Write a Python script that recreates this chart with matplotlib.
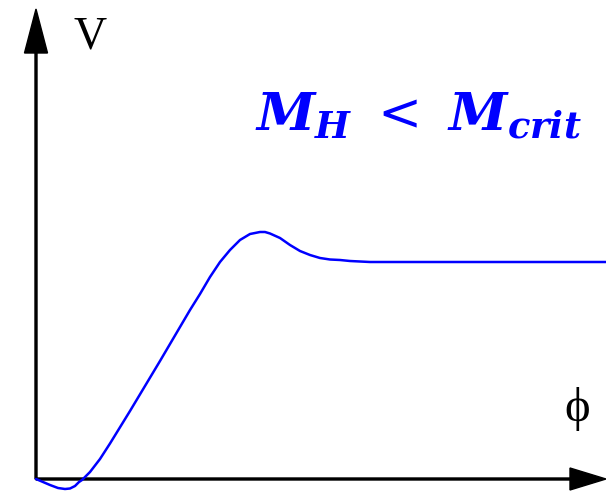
# 画势能曲线 V(phi)

import matplotlib.pyplot as plt

# 曲线上的点 (phi, V)
phi = [0, 7, 14, 22, 29, 34, 39, 43, 46, 54, 64, 74, 94, 124, 154, 164,
       174, 184, 194, 204, 214, 224, 229, 234, 244, 254, 264, 274, 284,
       294, 304, 314, 334, 570]
V = [0, -3, -6, -9, -10, -9.5, -7, -3, -1, 7, 20, 35.5, 68, 118, 169, 185,
     202, 217, 229, 239, 245, 247, 247, 245.5, 241, 234, 228, 224, 221,
     219.5, 219, 218, 217, 217]

if __name__ == '__main__':
    plt.rcParams['mathtext.fontset'] = 'custom'
    plt.rcParams['mathtext.it'] = 'DejaVu Serif:italic:bold'
    plt.rcParams['mathtext.rm'] = 'DejaVu Serif'

    fig = plt.figure(figsize=(6.06, 4.91), dpi=100)
    ax = fig.add_axes([0, 0, 1, 1])
    ax.set_xlim(-36, 570)
    ax.set_ylim(-12, 479)
    ax.axis('off')

    # 坐标轴箭头
    ax.arrow(0, 0, 0, 470, width=2, head_width=23, head_length=44,
             length_includes_head=True, fc='k', ec='k')
    ax.arrow(0, 0, 570, 0, width=2, head_width=22, head_length=36,
             length_includes_head=True, fc='k', ec='k')

    ax.plot(phi, V, color='#0000ff', linewidth=1.8, solid_capstyle='round',
            solid_joinstyle='round')

    ax.text(54, 442, 'V', family='Liberation Serif', fontsize=33,
            ha='center', va='center')
    ax.text(541, 70, 'ϕ', family='Liberation Serif', fontsize=35,
            ha='center', va='center')
    ax.text(546, 349, r'$M_H\;<\;M_{crit}$', color='#0000ff', fontsize=38,
            ha='right', va='baseline')

    plt.savefig('out.png', dpi=100)
